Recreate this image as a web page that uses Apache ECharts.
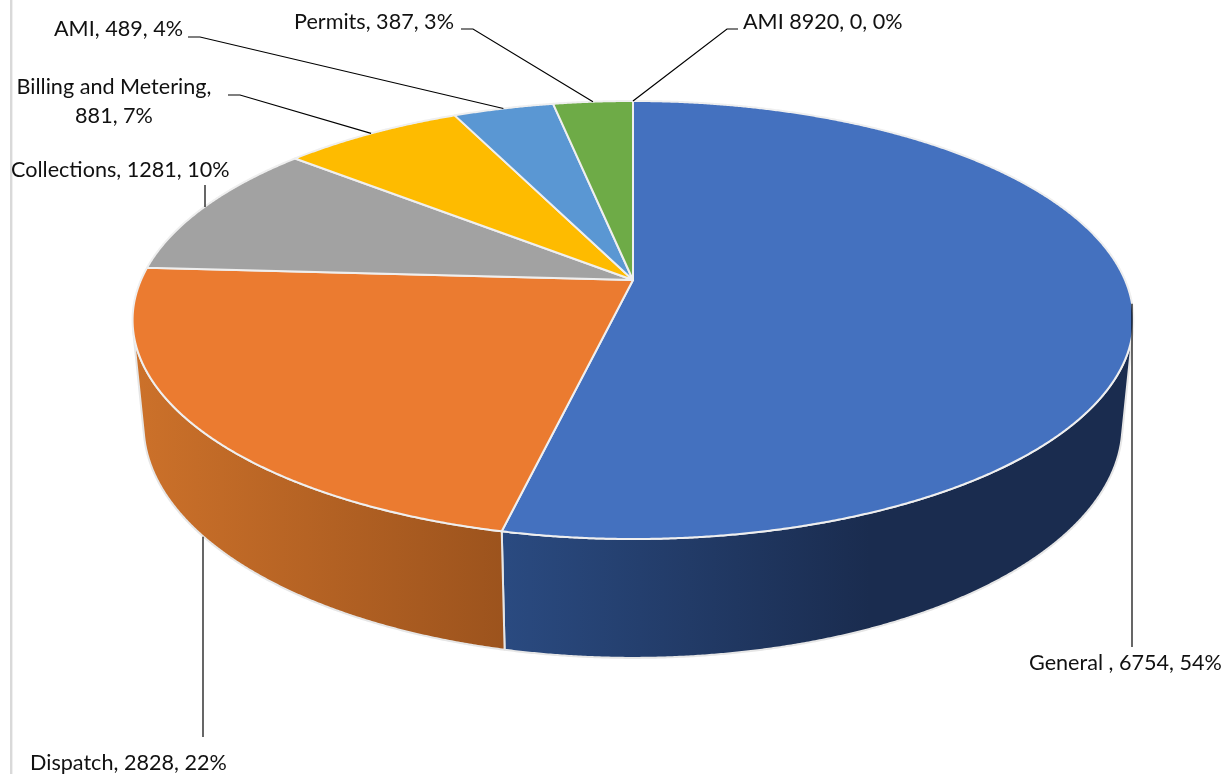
<!DOCTYPE html>
<html>
<head>
<meta charset="utf-8">
<style>html,body{margin:0;padding:0;background:#fff}#c{width:1232px;height:774px}</style>
<script src="https://cdn.jsdelivr.net/npm/echarts@6/dist/echarts.min.js"></script>
</head>
<body>
<div id="c"></div>
<script>
// ---- data ----
const categories = ['General ', 'Dispatch', 'Collections', 'Billing and Metering', 'AMI', 'Permits', 'AMI 8920'];
const values = [6754, 2828, 1281, 881, 489, 387, 0];

// ---- styles & layout (separate from data) ----
const colors = ['#4471BF', '#EB7B30', '#A2A2A2', '#FEBB00', '#5A97D3', '#6EAB47', '#264478'];
const sideStops = {
  0: { x0: 506, x1: 870, from: '#2A4A80', to: '#1A2C4F' },
  1: { x0: 135, x1: 506, from: '#CC712A', to: '#9C531D' }
};
const labelLayout = [
  { x: 1029, y: 663, align: 'left' },
  { x: 30, y: 763, align: 'left' },
  { x: 11, y: 170, align: 'left' },
  { x: 114, y: 102, align: 'center', lines: 2 },
  { x: 54, y: 29, align: 'left' },
  { x: 294, y: 22, align: 'left' },
  { x: 743, y: 22, align: 'left' }
];
// elbow / end points of the leader lines that leave each slice's rim anchor
const leaderElbows = [
  [[1132, 647]],
  [[203, 737]],
  [[205, 185]],
  [[240, 95], [228, 95]],
  [[200, 37], [188, 37]],
  [[473, 29], [461, 29]],
  [[727, 29], [738, 29]]
];

// ---- perspective disc projection ----
const CX = 633, CY = 280, K = 0.1826, AY = 211.7, BX = 492;
const BOTTOM_Y = 382.4, BOTTOM_AY = 225.2, BOTTOM_BX = 481.2;
function rim(t, cy, ay, bx) {
  const s = 1 / (1 + K * Math.cos(t));
  return [CX + bx * Math.sin(t) * s, cy - ay * Math.cos(t) * s];
}
const topRim = t => rim(t, CY, AY, BX);
const bottomRim = t => rim(t, BOTTOM_Y, BOTTOM_AY, BOTTOM_BX);
const total = values.reduce((a, b) => a + b, 0);
const starts = [];
values.reduce((acc, v, i) => { starts[i] = acc; return acc + v; }, 0);
const angle = v => v / total * 2 * Math.PI;

// silhouette angle: rim point whose generator is tangent (vanishing point far below)
const VY = CY + BX * (BOTTOM_Y - CY) / (BX - BOTTOM_BX);
let tanT = Math.PI / 2, best = -1;
for (let t = 0; t < Math.PI; t += 0.002) {
  const p = topRim(t), r = (p[0] - CX) / (VY - p[1]);
  if (r > best) { best = r; tanT = t; }
}
function arc(fn, a, b) {
  const pts = [], n = Math.max(2, Math.ceil(Math.abs(b - a) / 0.004));
  for (let i = 0; i <= n; i++) pts.push(fn(a + (b - a) * i / n));
  return pts;
}
function pct(v) { return Math.round(v / total * 100) + '%'; }
function labelText(i) {
  const sep = labelLayout[i].lines === 2 ? ',\n' : ', ';
  return categories[i] + sep + values[i] + ', ' + pct(values[i]);
}

const FONT = 'Lato, Carlito, "Open Sans", sans-serif';
const idx = values.map((_, i) => [i]);

const option = {
  backgroundColor: '#fff',
  animation: false,
  graphic: [{ type: 'rect', silent: true, shape: { x: 10, y: 0, width: 2.4, height: 774 }, style: { fill: '#D9D9D9' } }],
  series: [
    { // sides
      type: 'custom', coordinateSystem: 'none', z: 1, silent: true, data: idx.slice(0, 2),
      renderItem(params) {
        const i = params.dataIndex, g = sideStops[i];
        let a = angle(starts[i]), b = angle(starts[i] + values[i]);
        a = Math.max(a, tanT);
        b = Math.min(b, 2 * Math.PI - tanT);
        const pts = arc(topRim, a, b).concat(arc(bottomRim, b, a));
        return {
          type: 'polygon', shape: { points: pts },
          style: {
            fill: new echarts.graphic.LinearGradient(g.x0, 0, g.x1, 0, [
              { offset: 0, color: g.from }, { offset: 1, color: g.to }], true),
            stroke: '#E6E6E6', lineWidth: 2, lineJoin: 'round'
          }
        };
      }
    },
    { // top face
      type: 'custom', coordinateSystem: 'none', z: 2, silent: true, data: idx,
      renderItem(params) {
        const i = params.dataIndex;
        if (!values[i]) return null;
        const a = angle(starts[i]), b = angle(starts[i] + values[i]);
        const pts = [[CX, CY]].concat(arc(topRim, a, b));
        return {
          type: 'polygon', shape: { points: pts },
          style: { fill: colors[i], stroke: '#EFEFEF', lineWidth: 2, lineJoin: 'round' }
        };
      }
    },
    { // leaders + labels
      type: 'custom', coordinateSystem: 'none', z: 3, silent: true, data: idx,
      renderItem(params) {
        const i = params.dataIndex, L = labelLayout[i];
        const mid = angle(starts[i] + values[i] / 2);
        const anchor = i === 1 ? bottomRim(mid) : topRim(mid);
        const bends = leaderElbows[i];
        if (bends.length === 1) anchor[0] = bends[0][0]; // single-segment leaders stay vertical
        if (i === 1) anchor[1] += 2;
        return {
          type: 'group',
          children: [
            {
              type: 'polyline',
              shape: { points: [anchor].concat(bends) },
              style: { stroke: '#000', lineWidth: 1.2, fill: null }
            },
            {
              type: 'text',
              style: {
                x: L.x, y: L.y, text: labelText(i),
                textAlign: L.align, textVerticalAlign: 'middle',
                font: '21.6px ' + FONT, fill: '#111', lineHeight: 29
              }
            }
          ]
        };
      }
    }
  ]
};
const chart = echarts.init(document.getElementById('c'), null, { renderer: 'canvas', width: 1232, height: 774 });
chart.setOption(option);
</script>
</body>
</html>
